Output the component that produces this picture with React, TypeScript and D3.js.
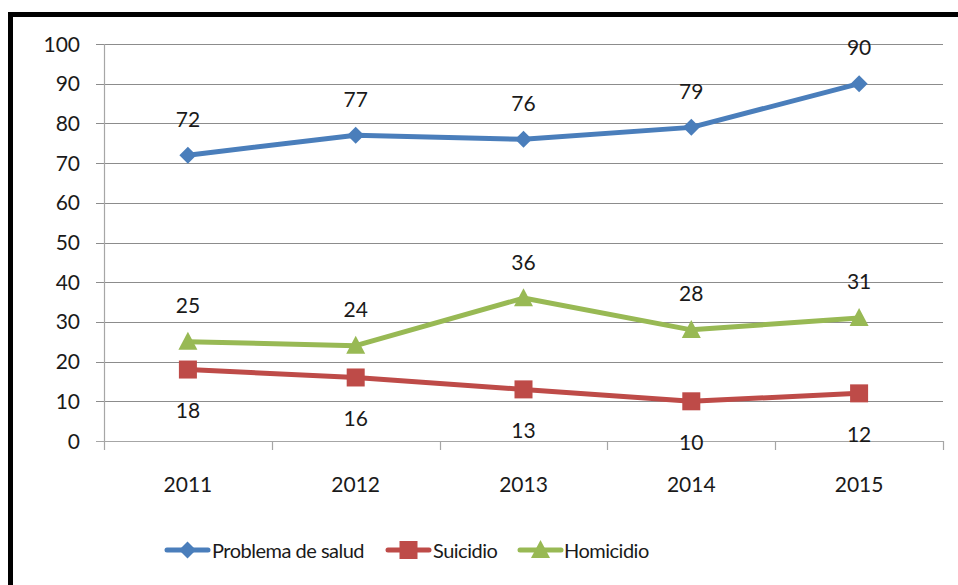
import React from "react";
import * as d3 from "d3";

const years = ["2011", "2012", "2013", "2014", "2015"];
const salud = [72, 77, 76, 79, 90];
const suicidio = [18, 16, 13, 10, 12];
const homicidio = [25, 24, 36, 28, 31];
const yTicks = [0, 10, 20, 30, 40, 50, 60, 70, 80, 90, 100];
const seriesNames = ["Problema de salud", "Suicidio", "Homicidio"];

const W = 958;
const H = 585;
const FONT = "Lato, 'Liberation Sans', sans-serif";

export default function App() {
  const x = d3.scaleBand<string>().domain(years).range([104, 943]);
  const y = d3.scaleLinear().domain([0, 100]).range([441, 44]);
  const cx = (d: string) => (x(d) as number) + x.bandwidth() / 2;

  const series = [
    { name: seriesNames[0], values: salud, color: "#4A7EBB", marker: "diamond", labelDy: -28.5 },
    { name: seriesNames[1], values: suicidio, color: "#BE4B48", marker: "square", labelDy: 48.5 },
    { name: seriesNames[2], values: homicidio, color: "#98B954", marker: "triangle", labelDy: -28.5 },
  ];

  const line = d3
    .line<number>()
    .x((_, i) => cx(years[i]))
    .y((v) => y(v));

  const marker = (type: string, px: number, py: number, color: string, key: string) => {
    if (type === "diamond") {
      const r = 8.5;
      return (
        <path key={key} d={`M${px},${py - r}L${px + r},${py}L${px},${py + r}L${px - r},${py}Z`} fill={color} />
      );
    }
    if (type === "square") {
      const s = 18;
      return <rect key={key} x={px - s / 2} y={py - s / 2} width={s} height={s} fill={color} />;
    }
    const w = 19;
    const h = 18;
    return (
      <path key={key} d={`M${px},${py - h * 0.55}L${px + w / 2},${py + h * 0.45}L${px - w / 2},${py + h * 0.45}Z`} fill={color} />
    );
  };

  const legendItems = [
    { lx: 167, tx: 212 },
    { lx: 388, tx: 433 },
    { lx: 520, tx: 564 },
  ];
  const legendY = 550;

  return (
    <svg width={W} height={H} style={{ position: "absolute", left: 0, top: 0 }} fontFamily={FONT}>
      <rect x={0} y={0} width={W} height={H} fill="#fff" />
      <rect x={10.5} y={14.5} width={1000} height={700} fill="#fff" stroke="#000" strokeWidth={5} />

      {/* gridlines */}
      {yTicks.map((t) => (
        <line key={"g" + t} x1={96} x2={943} y1={Math.round(y(t)) + 0.5} y2={Math.round(y(t)) + 0.5} stroke={t === 0 ? "#A6A6A6" : "#8C8C8C"} strokeWidth={1} />
      ))}
      {/* y axis */}
      <line x1={104.5} x2={104.5} y1={y(100)} y2={Math.round(y(0)) + 9} stroke="#A6A6A6" strokeWidth={1.2} />
      {/* category tick marks */}
      {years.map((d) => (
        <line key={"t" + d} x1={Math.round((x(d) as number) + x.bandwidth()) + 0.5} x2={Math.round((x(d) as number) + x.bandwidth()) + 0.5} y1={Math.round(y(0))} y2={Math.round(y(0)) + 9} stroke="#A6A6A6" strokeWidth={1.2} />
      ))}
      {/* y tick labels */}
      {yTicks.map((t) => (
        <text key={"yl" + t} x={80} y={y(t) + 7.5} textAnchor="end" fontSize={21} fill="#1a1a1a">
          {t}
        </text>
      ))}
      {/* x labels */}
      {years.map((d) => (
        <text key={"xl" + d} x={cx(d)} y={492} textAnchor="middle" fontSize={21} fill="#1a1a1a">
          {d}
        </text>
      ))}

      {/* series */}
      {series.map((s) => (
        <g key={s.name}>
          <path d={line(s.values) as string} fill="none" stroke={s.color} strokeWidth={5} strokeLinejoin="round" strokeLinecap="round" />
          {s.values.map((v, i) => marker(s.marker, cx(years[i]), y(v), s.color, s.name + i))}
          {s.values.map((v, i) => (
            <text key={s.name + "l" + i} x={cx(years[i])} y={y(v) + s.labelDy} textAnchor="middle" fontSize={21} fill="#1a1a1a">
              {v}
            </text>
          ))}
        </g>
      ))}

      {/* legend */}
      {series.map((s, i) => (
        <g key={"lg" + s.name}>
          <line x1={legendItems[i].lx} x2={legendItems[i].lx + 41} y1={legendY} y2={legendY} stroke={s.color} strokeWidth={5} strokeLinecap="round" />
          {marker(s.marker, legendItems[i].lx + 20.5, legendY, s.color, "lm" + i)}
          <text x={legendItems[i].tx} y={legendY + 7.5} fontSize={20} letterSpacing={-0.5} fill="#1a1a1a">
            {s.name}
          </text>
        </g>
      ))}
    </svg>
  );
}
